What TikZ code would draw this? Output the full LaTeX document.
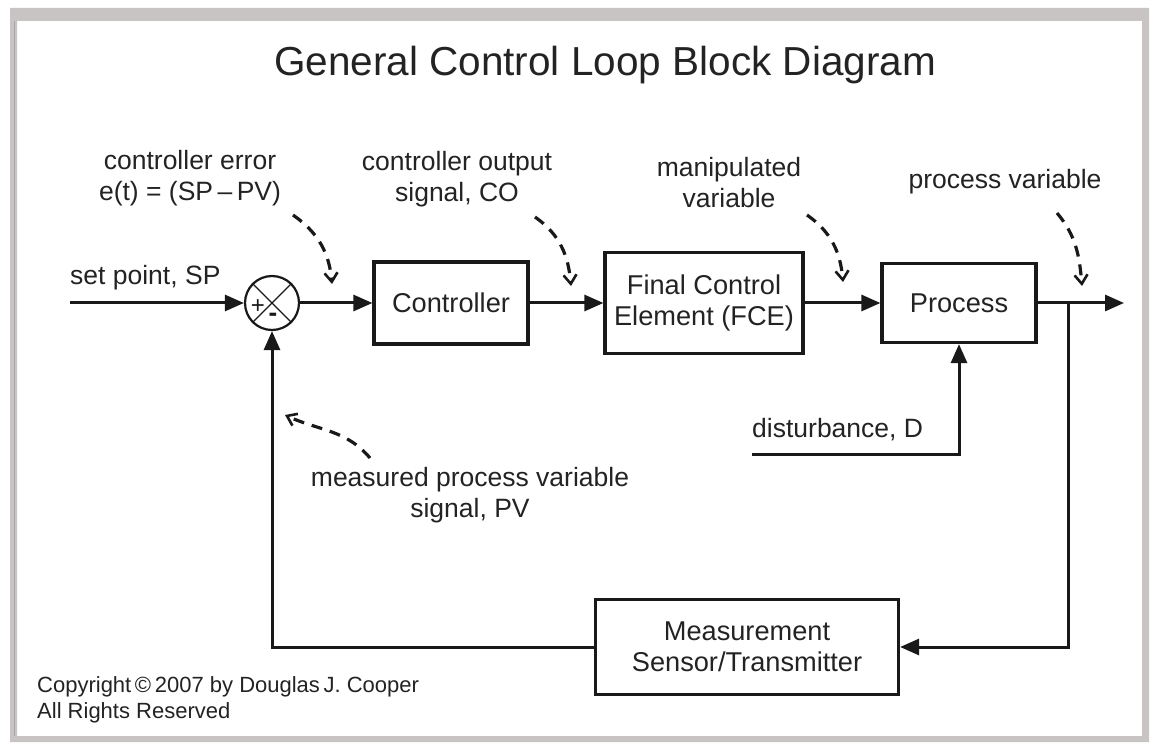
\documentclass[tikz,border=0pt]{standalone}
\usepackage{fontspec}
\setmainfont{Liberation Sans}
\usetikzlibrary{arrows.meta}
\definecolor{framegray}{RGB}{200,196,196}
\definecolor{ink}{RGB}{25,25,25}
\definecolor{txt}{RGB}{35,35,35}
\begin{document}
\begin{tikzpicture}[x=1pt,y=1pt,
  blk/.style={draw=ink, line width=3.2pt, fill=white, align=center, text=txt,
    font=\fontsize{27.2}{31}\selectfont, inner sep=0pt},
  lbl/.style={align=center, text=txt, font=\fontsize{26.5}{31}\selectfont, inner sep=0pt},
  arr/.style={draw=ink, line width=3pt, -{Triangle[length=19pt,width=16pt]}},
  dsh/.style={draw=ink, line width=3.2pt, dash pattern=on 11pt off 8pt,
    -{Straight Barb[length=9pt,width=13pt,line width=2.6pt]}}
]
\useasboundingbox (0,0) rectangle (1150,742);
\fill[white] (0,0) rectangle (1150,742);
% frame
\fill[framegray, even odd rule] (10,0) rectangle (1149,734) (17,6) rectangle (1142,721);
\draw[gray!70, line width=1pt] (14,6) -- (14,721);

% title
\node[lbl, font=\fontsize{40.5}{46}\selectfont] (title) at (605,677) {General Control Loop Block Diagram};

% blocks
\node[circle, draw=ink, line width=2.2pt, minimum size=54pt, inner sep=0pt] (sum) at (272,439) {};
\draw[ink, line width=1.4pt] (sum.north west) -- (sum.south east);
\draw[ink, line width=1.4pt] (sum.north east) -- (sum.south west);
\node[text=ink, font=\fontsize{24}{24}\selectfont, inner sep=0pt] (plus) at (258,435) {+};
\node[text=ink, font=\fontsize{26}{26}\selectfont\bfseries, inner sep=0pt] (minus) at (273,425) {-};

\node[blk, minimum width=154pt, minimum height=82pt] (ctrl) at (451,439) {Controller};
\node[blk, minimum width=198pt, minimum height=101pt] (fce) at (704,439) {Final Control\\Element (FCE)};
\node[blk, minimum width=154pt, minimum height=79pt] (proc) at (959,439) {Process};
\node[blk, minimum width=303pt, minimum height=95pt] (meas) at (747,95) {Measurement\\Sensor/Transmitter};

% main connectors
\coordinate (sp) at (70,439);
\coordinate (out) at (1124,439);
\coordinate (br) at (1068,439);
\coordinate (brd) at (1068,95);
\coordinate (dist) at (752,287);
\draw[arr] (sp) -- (sum.west);
\draw[arr] (sum.east) -- (ctrl.west);
\draw[arr] (ctrl.east) -- (fce.west);
\draw[arr] (fce.east) -- (proc.west);
\draw[arr] (proc.east) -- (out);
\draw[arr] (br) -- (brd) -- (meas.east);
\draw[arr] (meas.west) -| (sum.south);
\draw[arr] (dist) -| (proc.south);

% labels
\node[lbl, anchor=west] (splbl) at (70,464) {set point, SP};
\node[lbl] (celbl) at (190,564) {controller error\\e(t) = (SP\,--\,PV)};
\node[lbl] (colbl) at (457,563) {controller output\\signal, CO};
\node[lbl] (mvlbl) at (729,559) {manipulated\\variable};
\node[lbl] (pvlbl) at (1005,560) {process variable};
\node[lbl] (mpvlbl) at (470,247) {measured process variable\\signal, PV};
\node[lbl, anchor=west] (dlbl) at (752,312) {disturbance, D};
\node[lbl, anchor=west, align=left, font=\fontsize{22}{26}\selectfont] (copy) at (37,42) {Copyright\,\textcopyright\,2007 by Douglas\,J. Cooper\\All Rights Reserved};

% dashed pointers
\coordinate (ce1) at (293,527); \coordinate (ce2) at (332,458);
\coordinate (co1) at (535,525); \coordinate (co2) at (571,456);
\coordinate (mv1) at (807,527); \coordinate (mv2) at (843,460);
\coordinate (pv1) at (1057,529); \coordinate (pv2) at (1082,456);
\coordinate (mp1) at (370,284); \coordinate (mp2) at (285,327);
\draw[dsh] (ce1) to[out=-35, in=95] (ce2);
\draw[dsh] (co1) to[out=-35, in=95] (co2);
\draw[dsh] (mv1) to[out=-35, in=95] (mv2);
\draw[dsh] (pv1) to[out=-50, in=95] (pv2);
\draw[dsh] (mp1) to[out=130, in=-25] (mp2);
\end{tikzpicture}
\end{document}
